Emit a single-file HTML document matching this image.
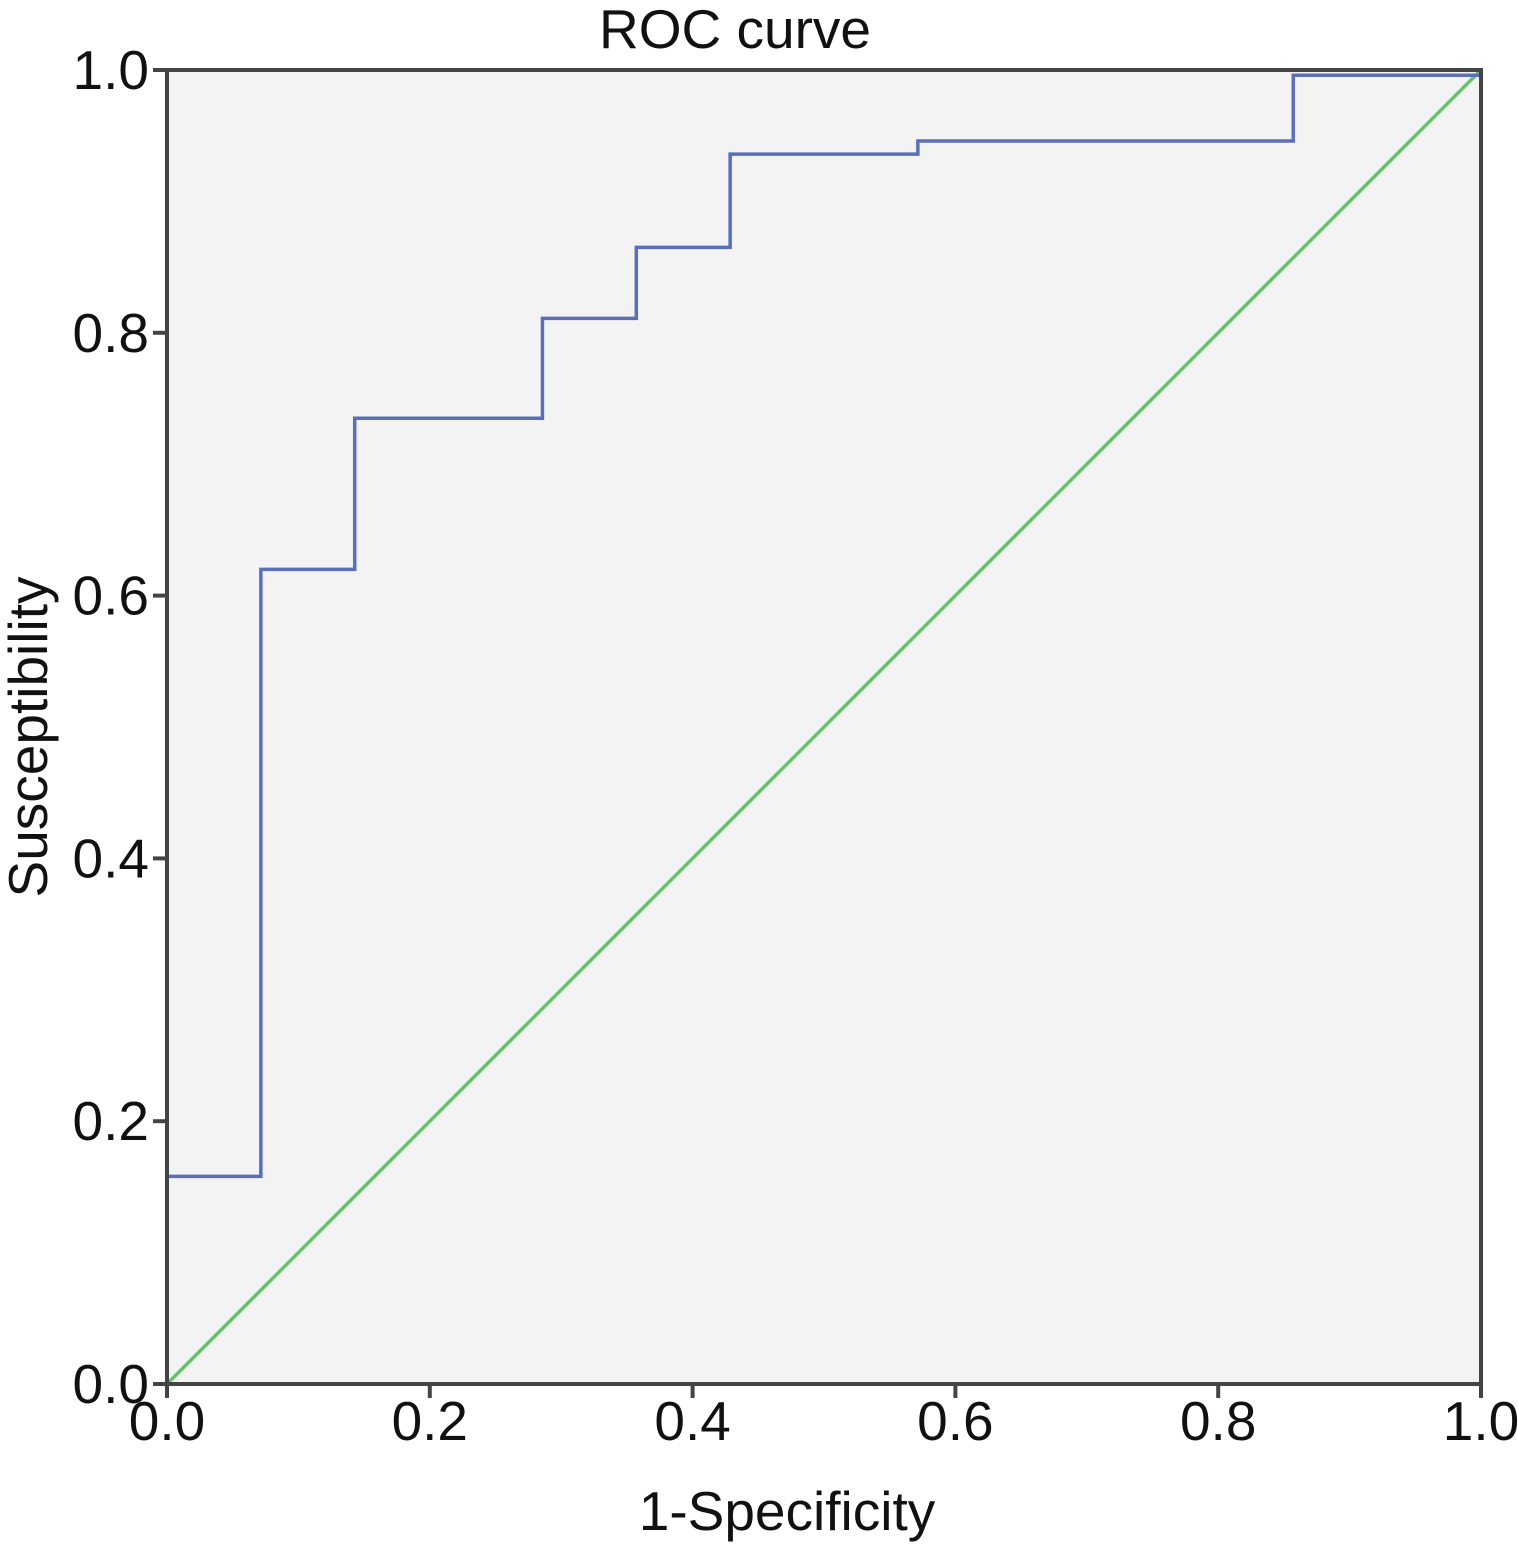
<!DOCTYPE html>
<html><head><meta charset="utf-8"><style>
body{margin:0;background:#fff;}
svg{display:block;font-family:"Liberation Sans",Arial,sans-serif;}
</style></head><body>
<svg id="chart" width="1518" height="1554">
<text x="735" y="48" font-size="55" text-anchor="middle" fill="#111">ROC curve</text>
<rect x="167" y="70" width="1314" height="1314" fill="#f3f3f3"/>
<g id="gx"></g>
<g id="gy"></g>
<g id="series"></g>
<text x="787" y="1530" font-size="55" text-anchor="middle" fill="#111">1-Specificity</text>
<text transform="translate(47,737) rotate(-90)" font-size="55" text-anchor="middle" fill="#111">Susceptibility</text>
</svg>
<script>
const rocX=[0,0,1/14,1/14,2/14,2/14,4/14,4/14,5/14,5/14,6/14,6/14,8/14,8/14,12/14,12/14,1,1];
const rocY=[0,0.158,0.158,0.62,0.62,0.735,0.735,0.811,0.811,0.865,0.865,0.936,0.936,0.946,0.946,0.996,0.996,1];
const refX=[0,1];
const refY=[0,1];
const tickVals=[0,0.2,0.4,0.6,0.8,1.0];
const tickLabels=["0.0","0.2","0.4","0.6","0.8","1.0"];
const L=167,R=1481,T=70,B=1384;
const sx=v=>L+v*(R-L), sy=v=>B-v*(B-T);
const NS="http://www.w3.org/2000/svg";
function mk(tag,attrs,parent){const e=document.createElementNS(NS,tag);for(const k in attrs)e.setAttribute(k,attrs[k]);parent.appendChild(e);return e;}
const gx=document.getElementById('gx'),gy=document.getElementById('gy'),gs=document.getElementById('series');
const fr=mk('rect',{x:L,y:T,width:R-L,height:B-T,fill:'none',stroke:'#444','stroke-width':4},gs.parentNode);


tickVals.forEach((v,i)=>{
  const t=mk('line',{x1:sx(v),x2:sx(v),y1:B,y2:B+14,stroke:'#444','stroke-width':4},gx);
  
  
  const lb=mk('text',{x:sx(v),y:B+56,'font-size':55,'text-anchor':'middle',fill:'#111'},gx);
  lb.textContent=tickLabels[i];
  
  
  const t2=mk('line',{x1:L-14,x2:L,y1:sy(v),y2:sy(v),stroke:'#444','stroke-width':4},gy);
  
  
  const lb2=mk('text',{x:L-18,y:sy(v)+19,'font-size':55,'text-anchor':'end',fill:'#111'},gy);
  lb2.textContent=tickLabels[i];
  
  
});
const ref=mk('polyline',{points:refX.map((x,i)=>sx(x)+','+sy(refY[i])).join(' '),fill:'none',stroke:'#6cc070','stroke-width':3.5},gs);


const roc=mk('polyline',{points:rocX.map((x,i)=>sx(x)+','+sy(rocY[i])).join(' '),fill:'none',stroke:'#5a6fb8','stroke-width':3.5},gs);


</script>
</body></html>
